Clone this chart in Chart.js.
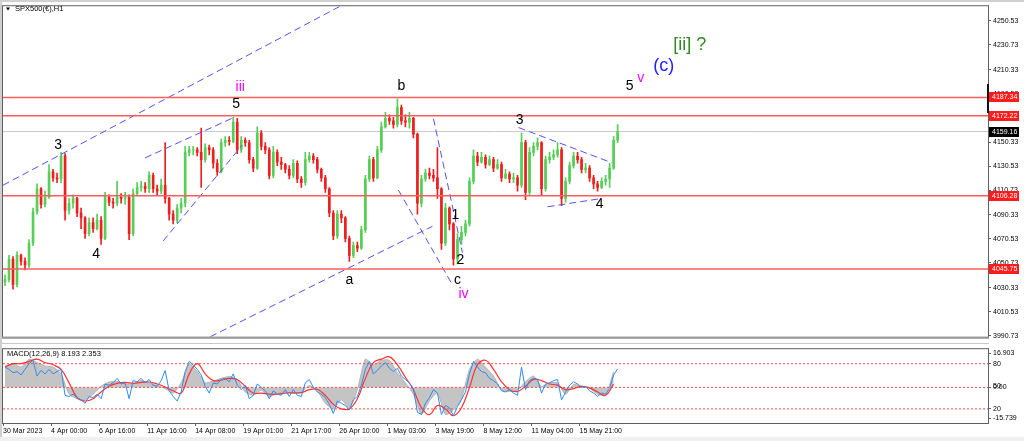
<!DOCTYPE html>
<html>
<head>
<meta charset="utf-8">
<script src="https://cdn.jsdelivr.net/npm/chart.js@4.4.1/dist/chart.umd.min.js"></script>
<style>
  html, body { margin: 0; padding: 0; background: #f0f0f0; }
  #wrap { position: relative; width: 1024px; height: 441px; overflow: hidden; }
  canvas { position: absolute; left: 0; }
  #price-canvas { top: 0; }
  #macd-canvas { top: 343px; }
</style>
</head>
<body>
<div id="wrap">
  <canvas id="price-canvas" width="1024" height="343"></canvas>
  <canvas id="macd-canvas" width="1024" height="98"></canvas>
</div>
<script>
// SPX500 H1 candles, one slot per bar (opens follow the previous close)
const firstOpen = 4035;
const closes = [
  4037, 4054, 4033, 4057, 4052, 4049, 4067, 4093, 4112, 4099,
  4105, 4126, 4121, 4120, 4139, 4094, 4100, 4104, 4092, 4088,
  4075, 4084, 4079, 4086, 4071, 4105, 4101, 4100, 4105, 4104,
  4105, 4075, 4108, 4113, 4114, 4112, 4123, 4112, 4110, 4115,
  4104, 4091, 4086, 4096, 4100, 4142, 4144, 4144, 4142, 4136,
  4146, 4144, 4133, 4126, 4150, 4152, 4151, 4167, 4144, 4152,
  4150, 4136, 4129, 4158, 4147, 4144, 4123, 4142, 4134, 4132,
  4128, 4123, 4133, 4120, 4117, 4136, 4139, 4136, 4128, 4121,
  4112, 4092, 4073, 4091, 4088, 4071, 4057, 4065, 4063, 4078,
  4120, 4136, 4121, 4144, 4163, 4170, 4168, 4165, 4179, 4168,
  4167, 4170, 4157, 4100, 4120, 4125, 4123, 4121, 4112, 4067,
  4096, 4083, 4054, 4070, 4076, 4083, 4118, 4139, 4134, 4138,
  4132, 4136, 4129, 4132, 4121, 4124, 4120, 4121, 4115, 4150,
  4109, 4142, 4147, 4150, 4112, 4136, 4138, 4140, 4144, 4104,
  4118, 4131, 4139, 4136, 4128, 4129, 4121, 4116, 4113, 4118,
  4120, 4129, 4152, 4159.16,
];
const highs = [
  4041, 4057, 4056, 4060, 4058, 4055, 4070, 4096, 4116, 4113,
  4110, 4132, 4128, 4125, 4142, 4141, 4104, 4107, 4105, 4096,
  4089, 4088, 4088, 4091, 4089, 4109, 4107, 4104, 4118, 4108,
  4109, 4107, 4112, 4117, 4118, 4117, 4126, 4125, 4115, 4120,
  4150, 4105, 4094, 4099, 4104, 4147, 4147, 4147, 4146, 4162,
  4149, 4148, 4146, 4136, 4153, 4155, 4155, 4171, 4170, 4155,
  4154, 4152, 4138, 4163, 4160, 4150, 4146, 4147, 4144, 4138,
  4133, 4131, 4136, 4135, 4122, 4142, 4142, 4141, 4138, 4129,
  4123, 4113, 4094, 4094, 4094, 4089, 4073, 4068, 4068, 4081,
  4123, 4139, 4138, 4147, 4167, 4175, 4173, 4171, 4186, 4181,
  4173, 4175, 4171, 4158, 4123, 4128, 4129, 4128, 4146, 4113,
  4100, 4097, 4084, 4075, 4081, 4086, 4121, 4144, 4142, 4142,
  4140, 4139, 4138, 4136, 4134, 4128, 4126, 4125, 4123, 4158,
  4152, 4146, 4150, 4154, 4151, 4139, 4142, 4144, 4150, 4146,
  4121, 4134, 4142, 4142, 4138, 4133, 4131, 4123, 4118, 4121,
  4123, 4133, 4155, 4165,
];
const lows = [
  4032, 4035, 4029, 4031, 4049, 4045, 4047, 4065, 4091, 4096,
  4097, 4104, 4118, 4117, 4117, 4086, 4091, 4096, 4089, 4079,
  4071, 4073, 4076, 4078, 4066, 4070, 4098, 4096, 4098, 4100,
  4099, 4070, 4073, 4106, 4110, 4109, 4109, 4109, 4107, 4108,
  4100, 4086, 4083, 4084, 4092, 4097, 4139, 4140, 4139, 4113,
  4134, 4140, 4129, 4123, 4125, 4147, 4148, 4150, 4141, 4142,
  4147, 4133, 4126, 4128, 4144, 4141, 4120, 4121, 4131, 4128,
  4125, 4120, 4121, 4117, 4113, 4115, 4134, 4133, 4125, 4118,
  4109, 4089, 4070, 4071, 4084, 4068, 4052, 4055, 4060, 4062,
  4076, 4118, 4118, 4120, 4142, 4162, 4165, 4162, 4163, 4165,
  4163, 4162, 4154, 4091, 4097, 4118, 4120, 4118, 4104, 4062,
  4065, 4078, 4049, 4050, 4066, 4073, 4081, 4116, 4131, 4133,
  4129, 4131, 4126, 4128, 4118, 4120, 4117, 4117, 4110, 4113,
  4103, 4107, 4139, 4144, 4107, 4110, 4133, 4136, 4138, 4098,
  4101, 4116, 4129, 4133, 4125, 4125, 4118, 4112, 4110, 4112,
  4115, 4113, 4128, 4150,
];

// MACD panel: histogram and signal sampled every 2 bars, main line every bar
const macdHist = [
  9.5, 10.5, 9, 12.5, 11, 9.5, 9, 6, -3, -5,
  -5.5, -3, 0.5, 2.4, 2.6, 1.5, 1.5, 3, 1.8, 0.8,
  -0.5, -2.5, 2, 10.5, 7, 2, 2.8, 4, 4.8, 3.5,
  -2, -3.5, -1.2, -4.2, -2.5, -2, -2.6, -2.2, 0.8, -1.5,
  -7, -9.5, -5.5, -9, -1, 12.5, 10, 12, 12, 6.5,
  2, -3, -12, -6, -2.5, -12, -10, -5, 8, 12.5,
  9, 5, -1, -1.8, -1.2, 2.5, 5, 0.5, 2, 2,
  -3, 1.2, 0.6, -0.4, -3, -3.5, 7,
];
const macdSignal = [
  9, 10.5, 10.5, 11.5, 12.5, 11, 10, 8, 2, -4.5,
  -6, -5, -2, 0.5, 1.8, 2.2, 1.8, 2.2, 2.4, 1.5,
  0.2, -1.5, -2.5, 6, 10.5, 6, 3, 3.2, 4, 3.5,
  0.5, -2.5, -2.5, -3, -3, -2.5, -2.4, -2.3, -1, -0.8,
  -3.5, -7.5, -9.5, -9.5, -5, 4, 11, 12.5, 13.5, 10,
  4.5, -1, -9, -12, -8, -9.5, -12.5, -9, 0, 10,
  12, 8, 2.5, -1, -1.8, 0.5, 3.5, 3, 1.5, 1,
  -1, -0.5, 0.5, -0.2, -2, -3.5, 1.5,
];
const macdLine = [
  9, 8, 6.5, 7, 5.5, 8, 10.5, 12, 5, 7.5,
  6, 8, 6, 7, 8, -3.5, -4, -3, -4.5, -5.5,
  -7, -4, -4.5, -3, -5, 1.5, 1, 2, 4, 1.5,
  2, -5, 3, 2.5, 4, 2, 3.5, 1, 0.5, 3,
  7.5, -1.5, -4, -6, -2, 7, 11.5, 10, 8, 5.5,
  0.5, -2.5, 2, 1.5, 3.5, 4, 2.5, 6, 1, -1,
  1, -5, -3.5, 1.5, 0, -1.5, -5, -1.5, -3, -3.5,
  -1, -4, -1, -3.5, -4, 2, 3.5, 0, -2, -3,
  -4.5, -7.5, -11.5, -6, -7, -8, -10, -5.5, -4, 1,
  8, 11.5, 6, 7.5, 9.5, 11, 8.5, 7, 8.5, 5,
  3.5, 2, -0.5, -11, -12, -7, -4.5, -1, -2.5, -12,
  -8, -9, -12.5, -8.5, -5.5, -2, 6, 11.5, 9, 7,
  6.5, 4, 3, 1.5, -1.5, -2, -1, -2.5, -3.5, 9,
  -1, 3, 4, 3.5, -2.5, 1.5, 2, 3, 3.5, -5.5,
  -2, 1, 2.5, 1.5, 0, 0.5, -1.5, -2.5, -4, -2.5,
  -3, -0.5, 5.5, 8.2,
];
const macdLevels = [10.5, 0, -9.5];

const priceTicks = [4250.53, 4230.73, 4210.33, 4190.53, 4170.73, 4150.33, 4130.53,
  4110.73, 4090.33, 4070.53, 4050.73, 4030.33, 4010.53, 3990.73];
const levelPrices = [4187.34, 4172.22, 4106.28, 4045.75];
const lastPrice = 4159.16;
const timeLabels = ['30 Mar 2023', '4 Apr 00:00', '6 Apr 16:00', '11 Apr 16:00', '14 Apr 08:00',
  '19 Apr 01:00', '21 Apr 17:00', '26 Apr 10:00', '1 May 03:00', '3 May 19:00',
  '8 May 12:00', '11 May 04:00', '15 May 21:00'];
const macdTickValues = [15.2, 10.5, 0, -9.5, -13.6];
const macdTickText = ['16.903', '80', '0.00', '20', '-15.739'];

// hand drawn trend lines, [bar, price] pairs
const trendLines = [
  [[-0.5, 4114.9], [88.75, 4271.5]],
  [[35, 4137.5], [57, 4170.6]],
  [[39.5, 4068.9], [59.25, 4148.0]],
  [[51.25, 3989.8], [106.75, 4081.0]],
  [[98.25, 4110.9], [111.75, 4032.6]],
  [[107, 4169.8], [114.25, 4059.2]],
  [[128.25, 4162.5], [151.5, 4133.5]],
  [[135.5, 4097.1], [148.25, 4103.6]],
];

const waveLabels = [
  { text: '3', at: [13.25, 4148.0], color: '#000', size: 14 },
  { text: '4', at: [22.75, 4057.6], color: '#000', size: 14 },
  { text: 'iii', at: [58.75, 4195.6], color: '#ff00ff', size: 14 },
  { text: '5', at: [57.75, 4181.9], color: '#000', size: 14 },
  { text: 'b', at: [99, 4196.4], color: '#000', size: 14 },
  { text: 'a', at: [86, 4036.6], color: '#000', size: 14 },
  { text: '1', at: [112.5, 4089.9], color: '#000', size: 14 },
  { text: '2', at: [113.75, 4052.8], color: '#000', size: 14 },
  { text: 'c', at: [113, 4036.6], color: '#000', size: 14 },
  { text: 'iv', at: [114.5, 4025.3], color: '#ff00ff', size: 14 },
  { text: '3', at: [128.5, 4168.2], color: '#000', size: 14 },
  { text: '4', at: [148.5, 4099.6], color: '#000', size: 14 },
  { text: '5', at: [156, 4196.4], color: '#000', size: 14 },
  { text: 'v', at: [158.75, 4202.9], color: '#ff00ff', size: 14 },
  { text: '(c)', at: [164.5, 4213.4], color: '#2222ff', size: 18 },
  { text: '[ii] ?', at: [171, 4230.3], color: '#338822', size: 18 },
];

const BULL = '#55cf55';
const BEAR = '#f01e1e';
const FRAME = '#606060';
const X_MIN = -0.5;
const X_MAX = 245.5;

Chart.defaults.font.family = '"Liberation Sans", Arial, sans-serif';
Chart.defaults.color = '#000';

const opens = closes.map((c, i) => (i ? closes[i - 1] : firstOpen));
const candleColors = closes.map((c, i) => (c >= opens[i] ? BULL : BEAR));

const hLine = (value, color, width, dash) => ({
  type: 'line',
  data: [{ x: X_MIN, y: value }, { x: X_MAX, y: value }],
  borderColor: color,
  borderWidth: width,
  borderDash: dash || [],
  pointRadius: 0,
  fill: false,
});

const priceDatasets = [
  ...levelPrices.map((p) => hLine(p, '#ff5c5c', 1.5)),
  ...trendLines.map((pts) => ({
    type: 'line',
    data: pts.map(([x, y]) => ({ x, y })),
    borderColor: '#5252f0',
    borderWidth: 1,
    borderDash: [7, 4],
    pointRadius: 0,
    fill: false,
  })),
  {
    type: 'bar',
    data: closes.map((c, i) => ({ x: i, y: [opens[i], c] })),
    backgroundColor: candleColors,
    barThickness: 2,
    grouped: false,
    borderWidth: 0,
  },
  {
    type: 'bar',
    data: highs.map((h, i) => ({ x: i, y: [lows[i], h] })),
    backgroundColor: candleColors,
    barThickness: 1,
    grouped: false,
    borderWidth: 0,
  },
  hLine(lastPrice, '#c8c8c8', 1),
];

const mainPlugin = {
  id: 'mainDecor',
  beforeDraw(chart) {
    const { ctx } = chart;
    ctx.save();
    ctx.fillStyle = '#fff';
    ctx.fillRect(0, 0, chart.width, chart.height);
    ctx.restore();
  },
  afterDraw(chart) {
    const { ctx, chartArea: a, scales: { x, y } } = chart;
    ctx.save();
    // wave counts
    ctx.textAlign = 'center';
    ctx.textBaseline = 'middle';
    waveLabels.forEach((w) => {
      ctx.font = `${w.size}px "Liberation Sans"`;
      ctx.fillStyle = w.color;
      ctx.fillText(w.text, x.getPixelForValue(w.at[0]), y.getPixelForValue(w.at[1]));
    });
    // frame
    ctx.strokeStyle = FRAME;
    ctx.lineWidth = 1;
    ctx.strokeRect(a.left - 0.5, a.top - 0.5, a.right - a.left + 1, a.bottom - a.top + 1);
    ctx.fillStyle = '#9a9a9a';
    ctx.fillRect(a.left - 1, a.bottom, a.right - a.left + 2, 2);
    ctx.fillStyle = '#d0d0d0';
    ctx.fillRect(0, 0, 2, chart.height);
    ctx.fillRect(0, 0, chart.width, 2);
    ctx.fillStyle = '#111';
    ctx.fillRect(a.right - 1, 84, 2, 29);
    // symbol title
    ctx.font = '7.5px "Liberation Sans"';
    ctx.textAlign = 'left';
    ctx.fillStyle = '#000';
    ctx.beginPath();
    ctx.moveTo(6, 7.5);
    ctx.lineTo(10, 7.5);
    ctx.lineTo(8, 10.5);
    ctx.closePath();
    ctx.fill();
    ctx.fillText('SPX500(€),H1', 15, 9);
    // price boxes on the axis
    const box = (p, color) => {
      const py = Math.round(y.getPixelForValue(p));
      ctx.fillStyle = color;
      ctx.fillRect(a.right + 1, py - 5, 30, 10);
      ctx.fillStyle = '#fff';
      ctx.font = '7px "Liberation Sans"';
      ctx.fillText(p.toFixed(2), a.right + 4, py + 0.5);
    };
    levelPrices.forEach((p) => box(p, '#ff1c1c'));
    box(lastPrice, '#000');
    ctx.restore();
  },
};

new Chart(document.getElementById('price-canvas'), {
  type: 'bar',
  data: { datasets: priceDatasets },
  options: {
    responsive: false,
    animation: false,
    devicePixelRatio: 1,
    layout: { padding: { left: 3, top: 3, right: 0, bottom: 2 } },
    plugins: { legend: { display: false }, tooltip: { enabled: false } },
    scales: {
      x: { type: 'linear', min: X_MIN, max: X_MAX, offset: false, display: false },
      y: {
        type: 'linear',
        position: 'right',
        min: 3989.79,
        max: 4262.64,
        afterFit: (scale) => { scale.width = 36; },
        afterBuildTicks: (scale) => { scale.ticks = priceTicks.map((v) => ({ value: v })); },
        ticks: {
          padding: 2,
          font: { size: 7 },
          color: '#000',
          callback: (v) => Number(v).toFixed(2),
        },
        grid: { drawOnChartArea: false, tickLength: 3, color: FRAME },
        border: { color: FRAME },
      },
    },
  },
  plugins: [mainPlugin],
});

const macdPlugin = {
  id: 'macdDecor',
  beforeDraw(chart) {
    const { ctx } = chart;
    ctx.save();
    ctx.fillStyle = '#fff';
    ctx.fillRect(0, 0, chart.width, chart.height);
    ctx.restore();
  },
  afterDraw(chart) {
    const { ctx, chartArea: a, scales: { y } } = chart;
    ctx.save();
    ctx.strokeStyle = FRAME;
    ctx.lineWidth = 1;
    ctx.strokeRect(a.left - 0.5, a.top - 0.5, a.right - a.left + 1, a.bottom - a.top + 1);
    ctx.fillStyle = '#c8c8c8';
    ctx.fillRect(a.left - 1, 0, a.right - a.left + 2, 1);
    ctx.fillStyle = '#d0d0d0';
    ctx.fillRect(0, 0, 2, chart.height);
    ctx.fillStyle = '#f0f0f0';
    ctx.fillRect(0, 94, chart.width, 4);
    ctx.font = '7.5px "Liberation Sans"';
    ctx.textAlign = 'left';
    ctx.textBaseline = 'middle';
    ctx.fillStyle = '#000';
    ctx.fillText('MACD(12,26,9) 8.193 2.353', a.left + 4, a.top + 5);
    ctx.font = '7px "Liberation Sans"';
    ctx.fillText('50', a.right + 5, y.getPixelForValue(0) - 1);
    ctx.restore();
  },
};

new Chart(document.getElementById('macd-canvas'), {
  type: 'line',
  data: {
    datasets: [
      {
        data: macdLine.map((v, i) => ({ x: i, y: v })),
        borderColor: '#2f8cf0',
        borderWidth: 1,
        pointRadius: 0,
        fill: false,
      },
      {
        data: macdSignal.map((v, k) => ({ x: k * 2, y: v })),
        borderColor: '#ff3030',
        borderWidth: 1.2,
        tension: 0.4,
        pointRadius: 0,
        fill: false,
      },
      ...macdLevels.map((v) => hLine(v, '#ff4a4a', 1, [2, 2])),
      {
        data: macdHist.map((v, k) => ({ x: k * 2, y: v })),
        borderColor: '#b4b4b4',
        backgroundColor: '#c4c4c4',
        borderWidth: 1,
        tension: 0.2,
        pointRadius: 0,
        fill: 'origin',
      },
    ],
  },
  options: {
    responsive: false,
    animation: false,
    devicePixelRatio: 1,
    layout: { padding: { left: 3, top: 2, right: 0, bottom: 0 } },
    plugins: { legend: { display: false }, tooltip: { enabled: false } },
    scales: {
      x: {
        type: 'linear',
        min: X_MIN,
        max: X_MAX,
        offset: false,
        afterFit: (scale) => { scale.height = 18; },
        afterBuildTicks: (scale) => { scale.ticks = timeLabels.map((t, k) => ({ value: k * 12 - 0.5 })); },
        ticks: {
          align: 'start',
          autoSkip: false,
          maxRotation: 0,
          padding: 1,
          font: { size: 7 },
          color: '#000',
          callback: (v, i) => timeLabels[i],
        },
        grid: { drawOnChartArea: false, tickLength: 3, color: FRAME },
        border: { color: FRAME },
      },
      y: {
        type: 'linear',
        position: 'right',
        min: -15.739,
        max: 16.903,
        afterFit: (scale) => { scale.width = 36; },
        afterBuildTicks: (scale) => { scale.ticks = macdTickValues.map((v) => ({ value: v })); },
        ticks: {
          padding: 2,
          font: { size: 7 },
          color: '#000',
          callback: (v, i) => macdTickText[i],
        },
        grid: { drawOnChartArea: false, tickLength: 3, color: FRAME },
        border: { color: FRAME },
      },
    },
  },
  plugins: [macdPlugin],
});
</script>
</body>
</html>
